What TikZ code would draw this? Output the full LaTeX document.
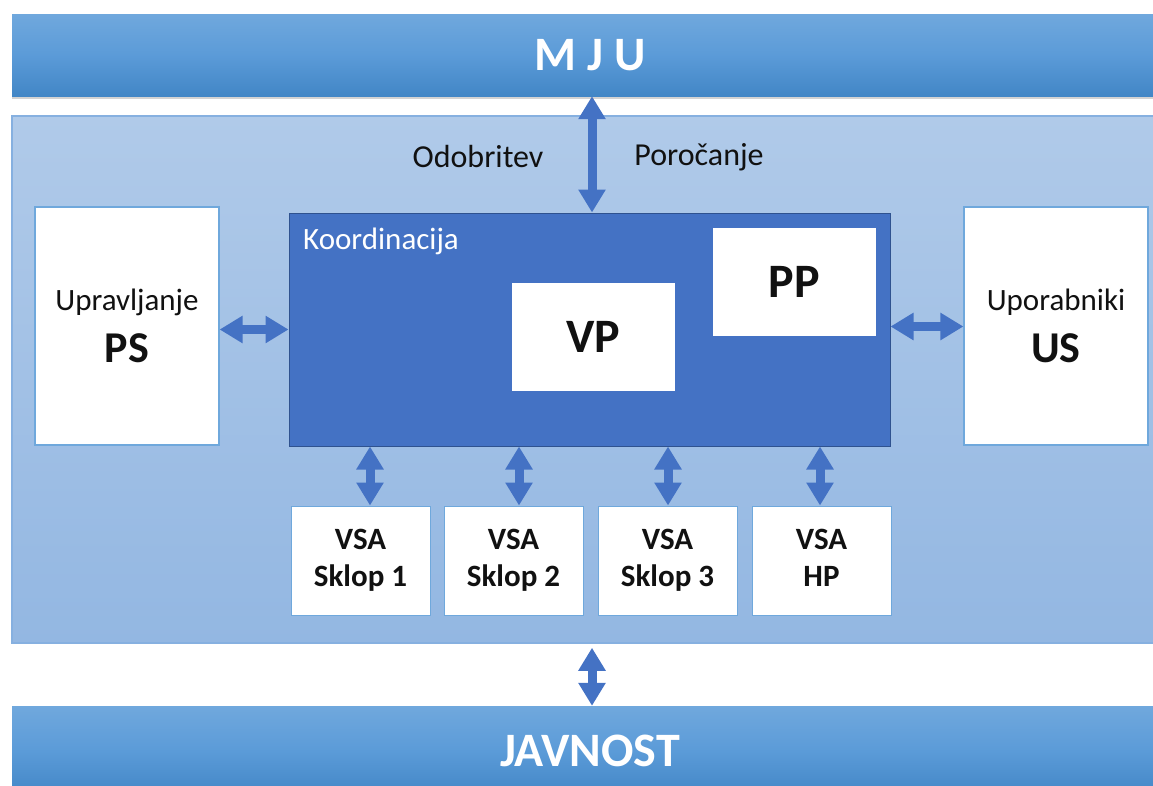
\documentclass[tikz,border=0pt]{standalone}
\usepackage{fontspec}
\setmainfont{Carlito}
\usetikzlibrary{arrows.meta,calc,shadows}
\definecolor{barTop}{HTML}{70A8DD}
\definecolor{barMid}{HTML}{5B9BD8}
\definecolor{barBot}{HTML}{4286C6}
\definecolor{panelTop}{HTML}{B0CAE9}
\definecolor{panelBot}{HTML}{93B7E2}
\definecolor{panelLine}{HTML}{86B0E0}
\definecolor{koordFill}{HTML}{4472C4}
\definecolor{koordLine}{HTML}{2F528F}
\definecolor{boxLine}{HTML}{6FA8DC}
\definecolor{arrowCol}{HTML}{4472C4}
\definecolor{txt}{HTML}{111111}
\begin{document}
\begin{tikzpicture}[x=1pt,y=-1pt,
  bar/.style={rectangle, inner sep=0pt, top color=barTop, bottom color=barBot, middle color=barMid,
    text=white, font=\fontsize{48}{48}\selectfont\bfseries},
  panel/.style={rectangle, inner sep=0pt, top color=panelTop, bottom color=panelBot, draw=panelLine, line width=1.5pt},
  sidebox/.style={rectangle, inner sep=0pt, fill=white, draw=boxLine, line width=1.2pt,
    minimum width=184pt, minimum height=238pt, align=center, text=txt,
    font=\fontsize{31}{52}\selectfont},
  koordbox/.style={rectangle, inner sep=0pt, fill=koordFill, draw=koordLine, line width=1pt},
  innerbox/.style={rectangle, inner sep=0pt, fill=white, minimum width=163pt, minimum height=108pt,
    text=txt, font=\fontsize{48}{48}\selectfont\bfseries},
  vsabox/.style={rectangle, inner sep=0pt, fill=white, draw=boxLine, line width=1pt,
    minimum width=139pt, minimum height=109pt, align=center, text=txt,
    font=\fontsize{31}{37}\selectfont\bfseries},
  lbl/.style={inner sep=0pt, text=txt, font=\fontsize{32}{32}\selectfont},
  dbl/.style={line width=9pt, draw=arrowCol,
    {Triangle[width=26pt,length=23pt]}-{Triangle[width=26pt,length=23pt]}}
]
\useasboundingbox (0,0) rectangle (1153,785);
% top bar
\node[bar, minimum width=1156pt, minimum height=82pt,
  drop shadow={opacity=0.35, shadow xshift=0pt, shadow yshift=-3pt}] (mju) at (590,55) {M J U};
% panel
\node[panel, minimum width=1156pt, minimum height=527pt] (panel) at (590,379.5) {};
% bottom bar
\node[bar, minimum width=1156pt, minimum height=90pt] (jav) at (590,751) {JAVNOST};
% side boxes
\node[sidebox] (ps) at (127,326) {Upravljanje\\{\fontsize{44}{52}\selectfont\bfseries PS}};
\node[sidebox] (us) at (1056,326) {Uporabniki\\{\fontsize{44}{52}\selectfont\bfseries US}};
% koordinacija
\node[koordbox, minimum width=601pt, minimum height=233pt] (koord) at (589.5,329.5) {};
\node[anchor=west, inner sep=0pt, text=white, font=\fontsize{31}{31}\selectfont] (klbl) at (303,241) {Koordinacija};
\node[innerbox] (vp) at (593.5,336.5) {VP};
\node[innerbox] (pp) at (794.5,281.5) {PP};
% VSA boxes
\node[vsabox] (v1) at (360.5,560.5) {VSA\\Sklop 1};
\node[vsabox] (v2) at (513.5,560.5) {VSA\\Sklop 2};
\node[vsabox] (v3) at (667.5,560.5) {VSA\\Sklop 3};
\node[vsabox] (v4) at (821.5,560.5) {VSA\\HP\vphantom{p}};
% labels
\node[lbl] (odo) at (478,157) {Odobritev};
\node[lbl] (por) at (699,157) {Poročanje};
% arrows
\draw[dbl] ([xshift=2pt]mju.south) -- ([xshift=2pt]mju.south |- koord.north);
\draw[dbl] (ps.east |- koord.west) -- (koord.west);
\draw[dbl] ([yshift=3pt]koord.east) -- ([yshift=3pt]us.west |- koord.east);
\draw[dbl] ([xshift=9.5pt]v1.north |- koord.south) -- ([xshift=9.5pt]v1.north);
\draw[dbl] ([xshift=5.5pt]v2.north |- koord.south) -- ([xshift=5.5pt]v2.north);
\draw[dbl] ([xshift=0.5pt]v3.north |- koord.south) -- ([xshift=0.5pt]v3.north);
\draw[dbl] ([xshift=-1.5pt]v4.north |- koord.south) -- ([xshift=-1.5pt]v4.north);
\draw[dbl] ([xshift=2pt,yshift=-4pt]panel.south) -- ([xshift=2pt]jav.north);
\end{tikzpicture}
\end{document}
